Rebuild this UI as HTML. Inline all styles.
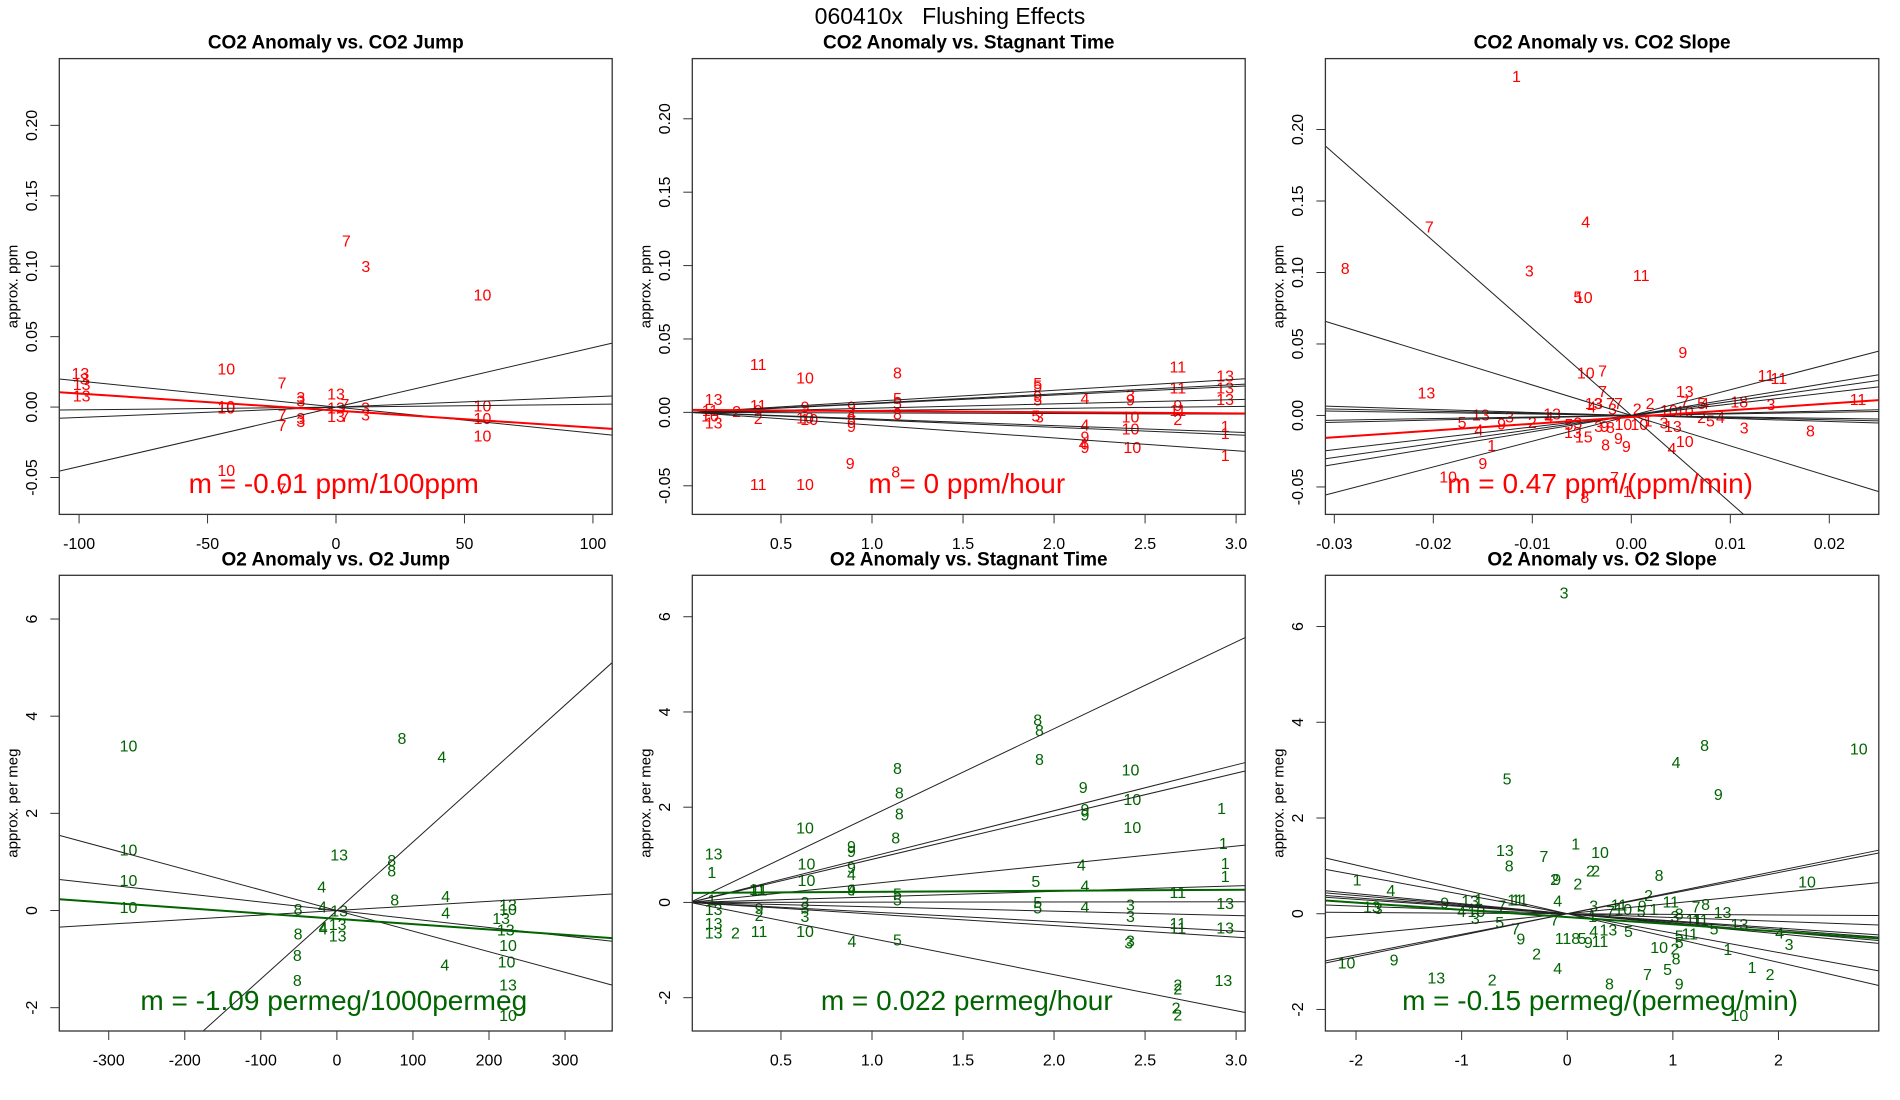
<!DOCTYPE html>
<html><head><meta charset="utf-8"><style>
html,body{margin:0;padding:0;background:#fff;width:1900px;height:1100px;overflow:hidden;}
svg{display:block;font-family:"Liberation Sans",Arial,sans-serif;}
</style></head><body>
<svg id="chart" width="1900" height="1100" viewBox="0 0 1900 1100" xmlns="http://www.w3.org/2000/svg">
<rect x="0" y="0" width="1900" height="1100" fill="#fff"/>
<text x="950" y="24" font-size="23" text-anchor="middle" style="white-space:pre" xml:space="preserve">060410x   Flushing Effects</text>
</svg>
<script>
// ---------- DATA ----------
// Panel 1: CO2 anomaly vs CO2 jump
const p1Labels=["13","3","13","13","10","10","10","10","7","7","7","7","3","3","3","3","13","13","13","7","7","3","3","7","3","10","10","10","10"];
const p1X=[-99.5,-98,-99,-99,-42.7,-42.7,-42.7,-42.7,-21,-21,-21,-21,-13.7,-13.7,-13.7,-13.7,0,0,0,3.5,3.5,11.5,11.5,4,11.6,57,57,57,57];
const p1Y=[0.024,0.02,0.016,0.008,0.027,-0.0005,0.0005,-0.045,0.017,-0.0055,-0.013,-0.058,0.007,0.0045,-0.008,-0.01,0.0095,-0.0005,-0.0068,0.002,-0.0068,-0.0005,-0.0055,0.118,0.100,0.0795,0.0008,-0.008,-0.0205];
const p1Slopes=[0.000422,-0.000185,0.0000735,0.0000197];
const p1Intercepts=[0,0,0,0];
const p1Fit=[-0.000121,-0.0025];
// Panel 2: CO2 anomaly vs stagnant time
const p2Labels=["11","10","8","11","13","13","11","13","5","5","9","5","4","3","9","13","13","10","11","2","11","9","2","9","10","10","9","4","8","9","5","5","8","5","3","4","9","4","9","10","10","10","9","11","2","1","1","1","9","11","10","8"];
const p2X=[0.375,0.632,1.14,2.68,2.94,2.94,2.68,2.94,1.91,1.91,1.91,1.91,2.17,2.42,2.42,0.13,0.13,0.11,0.11,0.256,0.375,0.375,0.375,0.632,0.632,0.655,0.887,0.887,0.887,0.887,1.14,1.14,1.14,1.9,1.92,2.17,2.17,2.16,2.17,2.42,2.42,2.43,2.68,2.68,2.68,2.94,2.94,2.94,0.88,0.375,0.632,1.13];
const p2Y=[0.0327,0.0234,0.0268,0.031,0.025,0.0167,0.0167,0.0088,0.0196,0.018,0.0108,0.0084,0.0096,0.012,0.0084,0.0088,-0.0072,-0.0024,0.0012,0.0007,0.0048,0.0012,-0.004,0.0036,-0.0036,-0.0048,0.0036,-0.0012,-0.0048,-0.0096,0.0096,0.006,-0.0012,-0.0024,-0.0030,-0.0084,-0.0167,-0.0215,-0.024,-0.003,-0.0112,-0.024,0.0048,0.0012,-0.0048,-0.0096,-0.0143,-0.0294,-0.0346,-0.049,-0.049,-0.0406];
const p2Slopes=[0.0075,0.0063,0.0059,0.0029,0.00135,-0.0004,-0.0045,-0.0051,-0.0087];
const p2Intercepts=[0,0,0,0,0,0,0,0,0];
const p2Fit=[-0.0008,0.0017];
// Panel 3: CO2 anomaly vs CO2 slope
const p3Labels=["1","7","4","8","3","11","5","10","9","10","7","11","11","13","7","13","18","3","11","13","3","5","9","2","13","4","4","1","9","10","13","3","7","7","3","4","2","2","10","10","7","4","5","2","4","5","3","13","5","3","13","15","3","9","8","8","9","9","10","10","1","4","10","3","8","8","7","1"];
const p3X=[-0.0116,-0.0204,-0.0046,-0.0289,-0.0103,0.001,-0.0054,-0.0048,0.0052,-0.0046,-0.0029,0.0136,0.0149,-0.0207,-0.0029,0.0054,0.0109,0.0141,0.0229,-0.0152,-0.0123,-0.0171,-0.0131,-0.01,-0.008,-0.0083,-0.0154,-0.0141,-0.015,-0.0185,-0.0038,-0.0033,-0.0021,-0.0013,-0.0019,-0.004,0.0006,0.0019,0.0038,0.0054,0.0054,0.0074,0.0071,0.0071,0.009,0.008,0.0033,0.0042,-0.0063,-0.0054,-0.0059,-0.0048,-0.0033,-0.0027,-0.0021,-0.0026,-0.0013,-0.0005,-0.0008,0.0008,0.0017,0.0041,0.0054,0.0114,0.0181,-0.0047,-0.0017,-0.0004];
const p3Y=[0.237,0.132,0.1355,0.103,0.101,0.098,0.083,0.0825,0.044,0.0297,0.031,0.028,0.026,0.0157,0.0169,0.0169,0.0096,0.0079,0.0113,0.0005,-0.001,-0.0047,-0.0059,-0.0047,0.001,-0.0015,-0.010,-0.021,-0.0334,-0.043,0.0083,0.0083,0.0083,0.0083,0.0047,0.0059,0.0047,0.0083,0.0034,0.003,0.0096,0.0083,0.0083,-0.0015,-0.0015,-0.0039,-0.0052,-0.0076,-0.0064,-0.0052,-0.0118,-0.015,-0.0076,-0.0076,-0.0083,-0.0206,-0.0162,-0.0216,-0.0064,-0.0064,-0.0039,-0.0231,-0.0182,-0.0088,-0.0108,-0.0574,-0.0432,-0.053];
const p3Slopes=[-6.1,-2.13,1.8,1.14,0.98,0.80,-0.21,-0.15,-0.1,0.11,0.16];
const p3Intercepts=[0,0,0,0,0,0,0,0,0,0,0];
const p3Fit=[0.473,-0.0011];
// Panel 4: O2 anomaly vs O2 jump
const p4Labels=["10","8","4","10","13","8","8","10","4","8","4","10","8","4","13","4","13","10","13","13","10","10","13","10","4","4","13","13","8","8","4","8"];
const p4X=[-274,85.6,138,-274,3,72,72,-274,-20,76,143,-274,-51,-19,3,143,225,225,216,222,225,223,225,225,-18,-18,1,1,-51,-52,142,-52];
const p4Y=[3.39,3.54,3.16,1.25,1.14,1.03,0.82,0.62,0.49,0.22,0.29,0.06,0.02,0.07,-0.01,-0.05,0.115,0.02,-0.16,-0.40,-0.72,-1.06,-1.53,-2.16,-0.38,-0.35,-0.29,-0.52,-0.48,-0.92,-1.12,-1.44];
const p4Slopes=[0.0141,-0.00424,-0.00175,0.00094];
const p4Intercepts=[0,0,0,0];
const p4Fit=[-0.0011,-0.17];
// Panel 5: O2 anomaly vs stagnant time
const p5Labels=["8","8","8","8","8","8","8","10","10","10","9","9","9","10","10","10","1","1","1","1","13","1","9","9","9","4","4","4","5","11","11","9","4","5","5","11","5","5","4","3","3","13","1","13","13","13","2","11","9","2","3","3","3","10","11","11","13","3","3","4","5","13","2","2","2","2"];
const p5X=[1.91,1.92,1.92,1.14,1.15,1.15,1.13,2.42,2.43,2.43,2.16,2.17,2.17,0.632,0.64,0.64,2.92,2.93,2.94,2.94,0.13,0.12,0.887,0.887,0.887,0.887,2.15,2.17,1.9,0.37,0.38,0.887,0.887,1.14,1.14,2.68,1.91,1.91,2.17,2.42,2.42,2.94,0.12,0.13,0.13,0.13,0.25,0.38,0.38,0.38,0.632,0.632,0.632,0.632,2.68,2.68,2.94,2.42,2.41,0.89,1.14,2.93,2.68,2.68,2.67,2.68];
const p5Y=[3.83,3.61,3.0,2.81,2.3,1.86,1.35,2.78,2.16,1.58,2.42,1.95,1.84,1.57,0.81,0.46,1.97,1.24,0.82,0.55,1.02,0.63,1.18,1.07,0.74,0.59,0.79,0.35,0.44,0.27,0.26,0.26,0.26,0.18,0.05,0.21,0,-0.11,-0.09,-0.05,-0.29,-0.02,0.05,-0.15,-0.44,-0.64,-0.64,-0.61,-0.13,-0.27,0,-0.11,-0.29,-0.61,-0.44,-0.53,-0.53,-0.81,-0.85,-0.82,-0.79,-1.64,-1.73,-1.82,-2.21,-2.36];
const p5Slopes=[1.824,0.963,0.905,0.395,0.116,0.005,-0.092,-0.201,-0.243,-0.758];
const p5Intercepts=[0,0,0,0,0,0,0,0,0,0];
const p5Fit=[0.022,0.2];
// Panel 6: O2 anomaly vs O2 slope
const p6Labels=["3","10","8","4","9","5","1","13","10","7","8","2","2","8","9","2","2","1","10","4","4","2","9","13","1","11","11","7","11","7","8","13","13","3","4","10","3","11","10","7","9","5","1","3","8","1","3","5","7","11","11","13","5","7","4","13","5","4","11","8","5","9","11","9","5","11","3","5","10","2","1","8","2","10","9","4","5","1","2","7","13","2","8","9","10"];
const p6X=[-0.03,2.76,1.3,1.03,1.43,-0.57,0.08,-0.59,0.31,-0.22,-0.55,0.22,0.27,0.87,-0.1,-0.12,0.1,-1.99,2.27,-1.67,-0.09,0.77,-1.16,-0.92,-0.84,-0.49,-0.45,-0.62,0.98,1.22,1.31,1.47,-1.85,-1.79,-1.0,-0.86,0.25,0.49,0.53,0.41,0.71,0.7,0.82,1.02,1.06,0.24,-0.87,-0.64,-0.12,1.2,1.26,1.63,1.39,-0.49,0.25,0.39,0.58,2.01,-0.04,0.08,0.14,0.2,0.31,-0.44,1.06,1.16,2.1,1.06,0.87,1.02,1.52,1.03,-0.29,-2.09,-1.64,-0.09,0.95,1.75,1.92,0.76,-1.24,-0.71,0.4,1.06,1.63];
const p6Y=[6.7,3.44,3.52,3.16,2.49,2.82,1.46,1.32,1.28,1.2,1.0,0.89,0.89,0.8,0.72,0.72,0.62,0.71,0.66,0.49,0.27,0.38,0.23,0.27,0.30,0.29,0.29,0.16,0.25,0.14,0.2,0.03,0.14,0.11,0.05,0.05,0.16,0.18,0.09,0.05,0.16,0.05,0.09,-0.06,0.0,-0.06,-0.1,-0.18,-0.13,-0.13,-0.13,-0.22,-0.32,-0.32,-0.37,-0.34,-0.37,-0.40,-0.52,-0.52,-0.52,-0.6,-0.58,-0.53,-0.46,-0.42,-0.64,-0.6,-0.7,-0.73,-0.75,-0.94,-0.84,-1.03,-0.96,-1.14,-1.16,-1.12,-1.27,-1.27,-1.34,-1.38,-1.47,-1.47,-2.12];
const p6Slopes=[-0.508,-0.405,-0.21,-0.19,-0.166,-0.15,-0.013,0.22,0.45,0.43,-0.08];
const p6Intercepts=[0,0,0,0,0,0,0,0,0,0,0];
const p6Fit=[-0.151,-0.07];

// ---------- LAYOUT ----------
const NS="http://www.w3.org/2000/svg";
const svg=document.getElementById('chart');
const panels=[
 {key:'p1',l:59.3,r:612.2,t:58.6,b:514.4,xlim:[-107.7,107.5],ylim:[-0.0762,0.2474],xt:[-100,-50,0,50,100],xd:0,yt:[-0.05,0,0.05,0.1,0.15,0.2],yd:2,col:'#ff0000',title:'CO2 Anomaly vs. CO2 Jump',ylab:'approx. ppm',note:'m = -0.01 ppm/100ppm',L:p1Labels,X:p1X,Y:p1Y,S:p1Slopes,I:p1Intercepts,F:p1Fit},
 {key:'p2',l:692.3,r:1245.2,t:58.6,b:514.4,xlim:[0.0128,3.05],ylim:[-0.0695,0.241],xt:[0.5,1,1.5,2,2.5,3],xd:1,yt:[-0.05,0,0.05,0.1,0.15,0.2],yd:2,col:'#ff0000',title:'CO2 Anomaly vs. Stagnant Time',ylab:'approx. ppm',note:'m = 0 ppm/hour',L:p2Labels,X:p2X,Y:p2Y,S:p2Slopes,I:p2Intercepts,F:p2Fit},
 {key:'p3',l:1325.4,r:1878.8,t:58.6,b:514.4,xlim:[-0.0309,0.025],ylim:[-0.0692,0.2496],xt:[-0.03,-0.02,-0.01,0,0.01,0.02],xd:2,yt:[-0.05,0,0.05,0.1,0.15,0.2],yd:2,col:'#ff0000',title:'CO2 Anomaly vs. CO2 Slope',ylab:'approx. ppm',note:'m = 0.47 ppm/(ppm/min)',L:p3Labels,X:p3X,Y:p3Y,S:p3Slopes,I:p3Intercepts,F:p3Fit},
 {key:'p4',l:59.3,r:612.2,t:575.3,b:1031,xlim:[-365,362],ylim:[-2.48,6.9],xt:[-300,-200,-100,0,100,200,300],xd:0,yt:[-2,0,2,4,6],yd:0,col:'#006400',title:'O2 Anomaly vs. O2 Jump',ylab:'approx. per meg',note:'m = -1.09 permeg/1000permeg',L:p4Labels,X:p4X,Y:p4Y,S:p4Slopes,I:p4Intercepts,F:p4Fit},
 {key:'p5',l:692.3,r:1245.2,t:575.3,b:1031,xlim:[0.013,3.05],ylim:[-2.7,6.87],xt:[0.5,1,1.5,2,2.5,3],xd:1,yt:[-2,0,2,4,6],yd:0,col:'#006400',title:'O2 Anomaly vs. Stagnant Time',ylab:'approx. per meg',note:'m = 0.022 permeg/hour',L:p5Labels,X:p5X,Y:p5Y,S:p5Slopes,I:p5Intercepts,F:p5Fit},
 {key:'p6',l:1325.4,r:1878.8,t:575.3,b:1031,xlim:[-2.29,2.95],ylim:[-2.45,7.07],xt:[-2,-1,0,1,2],xd:0,yt:[-2,0,2,4,6],yd:0,col:'#006400',title:'O2 Anomaly vs. O2 Slope',ylab:'approx. per meg',note:'m = -0.15 permeg/(permeg/min)',L:p6Labels,X:p6X,Y:p6Y,S:p6Slopes,I:p6Intercepts,F:p6Fit}
];
function mk(tag,attrs,parent){const e=document.createElementNS(NS,tag);for(const k in attrs)e.setAttribute(k,attrs[k]);(parent||svg).appendChild(e);return e;}
panels.forEach(p=>{
 const sx=v=>p.l+(v-p.xlim[0])/(p.xlim[1]-p.xlim[0])*(p.r-p.l);
 const sy=v=>p.b-(v-p.ylim[0])/(p.ylim[1]-p.ylim[0])*(p.b-p.t);
 const g=mk('g',{});
 
 
 const cp=mk('clipPath',{id:'clip-'+p.key},g);
 mk('rect',{x:p.l,y:p.t,width:p.r-p.l,height:p.b-p.t},cp);
 const tt=mk('text',{x:(p.l+p.r)/2,y:p.t-10,'font-size':19,'font-weight':'bold','text-anchor':'middle'},g);
 tt.textContent=p.title;
 
 
 const cyy=(p.t+p.b)/2;
 const yl=mk('text',{x:p.l-47,y:cyy,'font-size':15,'text-anchor':'middle',transform:`rotate(-90 ${p.l-47} ${cyy})`,dy:'0.35em'},g);
 yl.textContent=p.ylab;
 
 
 p.yt.forEach(v=>{const y=sy(v);
  mk('line',{x1:p.l-9,x2:p.l,y1:y,y2:y,stroke:'#333','stroke-width':1},g);
  const t=mk('text',{x:p.l-28,y:y,'font-size':16,'text-anchor':'middle',dy:'0.35em',transform:`rotate(-90 ${p.l-28} ${y})`},g);
  t.textContent=v.toFixed(p.yd);
  
  
 });
 p.xt.forEach(v=>{const x=sx(v);
  mk('line',{x1:x,x2:x,y1:p.b,y2:p.b+9,stroke:'#333','stroke-width':1},g);
  const t=mk('text',{x:x,y:p.b+29,'font-size':16,'text-anchor':'middle',dy:'0.35em'},g);
  t.textContent=v.toFixed(p.xd);
  
  
 });
 const pg=mk('g',{'clip-path':`url(#clip-${p.key})`},g);
 p.L.forEach((lab,i)=>{
  const t=mk('text',{x:sx(p.X[i]),y:sy(p.Y[i]),'font-size':16,'text-anchor':'middle',dy:'0.35em',fill:p.col},pg);
  t.textContent=lab;
  
  
 });
 p.S.forEach((s,i)=>{
  const ln=mk('line',{x1:sx(p.xlim[0]),y1:sy(p.I[i]+s*p.xlim[0]),x2:sx(p.xlim[1]),y2:sy(p.I[i]+s*p.xlim[1]),stroke:'#222','stroke-width':1},pg);
  
  
 });
 const fl=mk('line',{x1:sx(p.xlim[0]),y1:sy(p.F[1]+p.F[0]*p.xlim[0]),x2:sx(p.xlim[1]),y2:sy(p.F[1]+p.F[0]*p.xlim[1]),stroke:p.col,'stroke-width':2},pg);
 
 
 const nt=mk('text',{x:(p.l+p.r)/2-2,y:p.b-31,'font-size':28,'text-anchor':'middle',dy:'0.35em',fill:p.col},g);
 nt.textContent=p.note;
 
 
 const bx=mk('rect',{x:p.l,y:p.t,width:p.r-p.l,height:p.b-p.t,fill:'none',stroke:'#333','stroke-width':1.3},g);
 
 
});
</script>
</body></html>
